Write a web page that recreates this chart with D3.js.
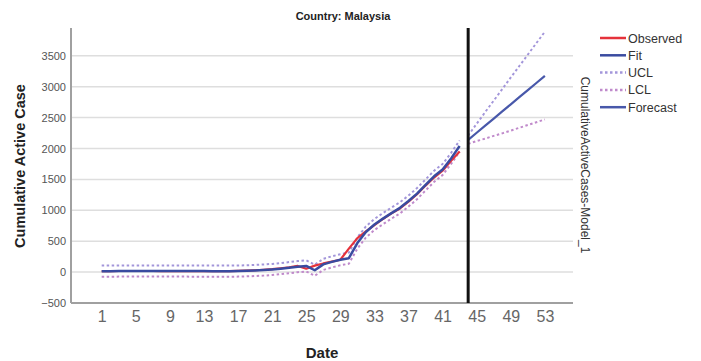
<!DOCTYPE html>
<html><head><meta charset="utf-8">
<script src="https://cdn.jsdelivr.net/npm/d3@7"></script>
<style>body{margin:0;background:#fff}svg{display:block;font-family:"Liberation Sans",Arial,sans-serif}</style>
</head><body><svg id="c" width="701" height="361"></svg>
<script>
const days = [1,2,3,4,5,6,7,8,9,10,11,12,13,14,15,16,17,18,19,20,21,22,23,24,25,26,27,28,29,30,31,32,33,34,35,36,37,38,39,40,41,42,43];
const observed = [14,16,18,18,18,18,18,17,17,17,16,16,15,15,15,17,20,24,30,38,48,62,78,100,55,105,140,170,200,380,550,660,760,860,950,1030,1140,1260,1400,1530,1640,1800,1950];
const fit = [15,15,17,18,18,18,18,18,17,17,17,16,16,15,15,15,17,21,26,33,43,56,72,88,100,30,125,165,200,225,470,650,770,865,955,1040,1150,1270,1410,1550,1660,1840,2040];
const ucl = [105,105,107,108,108,108,108,108,107,107,107,106,106,105,105,105,107,111,116,123,133,146,162,178,190,120,215,255,290,315,560,740,860,955,1045,1130,1240,1360,1500,1640,1750,1930,2130];
const lcl = [-75,-75,-73,-72,-72,-72,-72,-72,-73,-73,-73,-74,-74,-75,-75,-75,-73,-69,-64,-57,-47,-34,-18,-2,10,-60,35,75,110,135,380,560,680,775,865,950,1060,1180,1320,1460,1570,1750,1950];
const fcDays = [44,45,46,47,48,49,50,51,52,53];
const forecast = [2140,2255,2370,2485,2600,2715,2830,2945,3060,3175];
const fcUcl = [2210,2400,2590,2775,2960,3150,3335,3520,3705,3890];
const fcLcl = [2075,2120,2160,2205,2245,2290,2335,2380,2425,2470];
const xTicks = [1,5,9,13,17,21,25,29,33,37,41,45,49,53];
const yTicks = [-500,0,500,1000,1500,2000,2500,3000,3500];
const forecastStart = 44;
const legendItems = [
  {name:"Observed", color:"#e5323b", dash:null},
  {name:"Fit", color:"#3a4ba0", dash:null},
  {name:"UCL", color:"#a396da", dash:"2.5,2.5"},
  {name:"LCL", color:"#c08acb", dash:"2.5,2.5"},
  {name:"Forecast", color:"#4858aa", dash:null}
];

const svg = d3.select("#c");
const L = 71, R = 573, T = 28, B = 303;
const x = d3.scaleLinear().domain([-2.6, 56.3]).range([L, R]);
const y = d3.scaleLinear().domain([-500, 3950]).range([B, T]);

// gridlines
svg.append("g").selectAll("line").data(yTicks.filter(v => v > -500)).join("line")
  .attr("x1", L).attr("x2", R).attr("y1", d => y(d)).attr("y2", d => y(d))
  .attr("stroke", "#dedede").attr("stroke-width", 1.5);

// y axis
const ya = svg.append("g").attr("transform", `translate(${L},0)`)
  .call(d3.axisLeft(y).tickValues(yTicks).tickSize(0).tickPadding(5).tickFormat(d3.format("d")));
ya.select(".domain").remove();
ya.selectAll("text").attr("font-size", 11).attr("fill", "#555").attr("font-family", "Liberation Sans, Arial, sans-serif");

// x axis
const xa = svg.append("g").attr("transform", `translate(0,${B})`)
  .call(d3.axisBottom(x).tickValues(xTicks).tickSize(0).tickPadding(8).tickFormat(d3.format("d")));
xa.select(".domain").remove();
xa.selectAll("text").attr("font-size", 16).attr("fill", "#666").attr("font-family", "Liberation Sans, Arial, sans-serif");

// axis lines
svg.append("line").attr("x1", L).attr("x2", L).attr("y1", T).attr("y2", B).attr("stroke", "#a0a0a0").attr("stroke-width", 2);
svg.append("line").attr("x1", L).attr("x2", R).attr("y1", B).attr("y2", B).attr("stroke", "#a0a0a0").attr("stroke-width", 2);

const line = (xs, ys) => d3.line().x((d, i) => x(xs[i])).y(d => y(d))(ys);
function draw(xs, ys, color, w, dash) {
  const p = svg.append("path").attr("d", line(xs, ys)).attr("fill", "none")
    .attr("stroke", color).attr("stroke-width", w).attr("stroke-linejoin", "round");
  if (dash) p.attr("stroke-dasharray", dash);
}
draw(days, ucl, legendItems[2].color, 2, legendItems[2].dash);
draw(days, lcl, legendItems[3].color, 2, legendItems[3].dash);
draw(days, observed, legendItems[0].color, 2.2, null);
draw(days, fit, legendItems[1].color, 2.5, null);
draw(fcDays, fcUcl, legendItems[2].color, 2, legendItems[2].dash);
draw(fcDays, fcLcl, legendItems[3].color, 2, legendItems[3].dash);
draw(fcDays, forecast, legendItems[4].color, 2.2, null);

// forecast start line
svg.append("line").attr("x1", x(forecastStart)).attr("x2", x(forecastStart)).attr("y1", T).attr("y2", B)
  .attr("stroke", "#111").attr("stroke-width", 3);

// title
svg.append("text").attr("x", 343).attr("y", 20).attr("text-anchor", "middle")
  .attr("font-size", 11).attr("font-weight", "bold").attr("fill", "#222").text("Country: Malaysia");
// axis titles
svg.append("text").attr("transform", "translate(25,166) rotate(-90)").attr("text-anchor", "middle")
  .attr("font-size", 14.5).attr("font-weight", "bold").attr("fill", "#222").text("Cumulative Active Case");
svg.append("text").attr("x", 322).attr("y", 358).attr("text-anchor", "middle")
  .attr("font-size", 15).attr("font-weight", "bold").attr("fill", "#222").text("Date");
// rotated series label
svg.append("text").attr("transform", "translate(581,165) rotate(90)").attr("text-anchor", "middle")
  .attr("font-size", 12).attr("fill", "#333").text("CumulativeActiveCases-Model_1");

// legend
const lg = svg.append("g").selectAll("g").data(legendItems).join("g")
  .attr("transform", (d, i) => `translate(600,${38 + i * 17.3})`);
lg.append("line").attr("x1", 0).attr("x2", 26).attr("stroke", d => d.color).attr("stroke-width", 2.5)
  .attr("stroke-dasharray", d => d.dash);
lg.append("text").attr("x", 28).attr("y", 4.5).attr("font-size", 12.5).attr("fill", "#333").text(d => d.name);
</script></body></html>
